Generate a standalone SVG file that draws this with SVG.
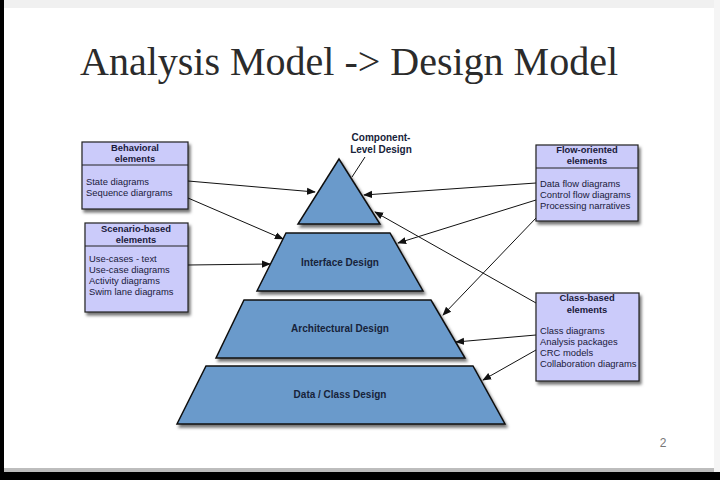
<svg xmlns="http://www.w3.org/2000/svg" width="720" height="480" viewBox="0 0 720 480">
<defs>
<filter id="sh" x="-20%" y="-20%" width="150%" height="150%">
<feDropShadow dx="2" dy="3" stdDeviation="1.6" flood-color="#000" flood-opacity="0.55"/>
</filter>
<marker id="ah" viewBox="0 0 10 10" refX="9" refY="5" markerWidth="9" markerHeight="9" markerUnits="userSpaceOnUse" orient="auto">
<path d="M0,1 L10,5 L0,9 Z" fill="#111"/>
</marker>
<style>
.box{fill:#cbcbfa;stroke:#222;stroke-width:1.2;filter:url(#sh)}
.sep{stroke:#222;stroke-width:1}
.hd{font-family:"Liberation Sans",Arial,sans-serif;font-size:9.4px;font-weight:bold;fill:#1a1a3a;text-anchor:middle}
.bd{font-family:"Liberation Sans",Arial,sans-serif;font-size:9.4px;fill:#1a1a3a}
.pyr{fill:#6a9acb;stroke:#111;stroke-width:1.5;filter:url(#sh)}
.pl{font-family:"Liberation Sans",Arial,sans-serif;font-size:10px;font-weight:bold;fill:#17233a;text-anchor:middle}
.cn{fill:none;stroke:#111;stroke-width:1;marker-end:url(#ah)}
</style>
</defs>
<rect x="0" y="0" width="720" height="480" fill="#000"/>
<rect x="4" y="0" width="716" height="472" fill="#bdbdbd"/>
<rect x="4" y="0" width="710" height="468" fill="#fff"/>
<rect x="4" y="0" width="710" height="8" fill="#f0f0f0"/>
<rect x="714" y="0" width="6" height="472" fill="#f5f5f5"/>
<text x="80" y="75" font-family="Liberation Serif,'Times New Roman',serif" font-size="40" fill="#2b2b2b" textLength="538" lengthAdjust="spacingAndGlyphs">Analysis Model -&gt; Design Model</text>
<text x="663" y="447" font-family="Liberation Sans,Arial,sans-serif" font-size="12" fill="#777" text-anchor="middle">2</text>

<g id="connectors">
<line class="cn" x1="188" y1="181" x2="315" y2="192"/>
<line class="cn" x1="188" y1="198" x2="283" y2="239"/>
<line class="cn" x1="188" y1="265" x2="270" y2="264"/>
<line class="cn" x1="536" y1="183" x2="364" y2="195"/>
<line class="cn" x1="536" y1="200" x2="398" y2="243"/>
<line class="cn" x1="537" y1="217" x2="443" y2="315"/>
<line class="cn" x1="536" y1="303" x2="375" y2="212"/>
<line class="cn" x1="536" y1="335" x2="456" y2="342"/>
<line class="cn" x1="536" y1="350" x2="483" y2="380"/>
<line x1="365" y1="157" x2="352" y2="177" stroke="#111" stroke-width="1"/>
</g>

<g id="component-level">
<polygon class="pyr" points="339,159 380,224 298,224"/>
<text class="pl" x="381" y="141">Component-</text>
<text class="pl" x="381" y="153">Level Design</text>
</g>
<g id="interface">
<polygon class="pyr" points="286,233 390,233 423,291 257,291"/>
<text class="pl" x="340" y="266">Interface Design</text>
</g>
<g id="architectural">
<polygon class="pyr" points="244,300 431,300 465,358 216,358"/>
<text class="pl" x="340" y="332">Architectural Design</text>
</g>
<g id="data-class">
<polygon class="pyr" points="206,366 473,366 505,424 177,424"/>
<text class="pl" x="340" y="398">Data / Class Design</text>
</g>

<g id="behavioral">
<rect class="box" x="82" y="142" width="106" height="67"/>
<line class="sep" x1="82" y1="165" x2="188" y2="165"/>
<text class="hd" x="135" y="151">Behavioral</text>
<text class="hd" x="135" y="162">elements</text>
<text class="bd" x="86" y="185">State diagrams</text>
<text class="bd" x="86" y="196">Sequence diargrams</text>
</g>
<g id="scenario">
<rect class="box" x="85" y="223" width="103" height="89"/>
<line class="sep" x1="85" y1="246" x2="188" y2="246"/>
<text class="hd" x="136" y="231.5">Scenario-based</text>
<text class="hd" x="136" y="242.5">elements</text>
<text class="bd" x="89" y="262">Use-cases - text</text>
<text class="bd" x="89" y="273">Use-case diagrams</text>
<text class="bd" x="89" y="284">Activity diagrams</text>
<text class="bd" x="89" y="295">Swim lane diagrams</text>
</g>
<g id="flow-oriented">
<rect class="box" x="536" y="145" width="102" height="76"/>
<line class="sep" x1="536" y1="168" x2="638" y2="168"/>
<text class="hd" x="587" y="153">Flow-oriented</text>
<text class="hd" x="587" y="164">elements</text>
<text class="bd" x="540" y="187">Data flow diagrams</text>
<text class="bd" x="540" y="198">Control flow diagrams</text>
<text class="bd" x="540" y="209">Processing narratives</text>
</g>
<g id="class-based">
<rect class="box" x="536" y="293" width="103" height="88"/>
<text class="hd" x="587" y="301">Class-based</text>
<text class="hd" x="587" y="313">elements</text>
<text class="bd" x="540" y="334">Class diagrams</text>
<text class="bd" x="540" y="345">Analysis packages</text>
<text class="bd" x="540" y="356">CRC models</text>
<text class="bd" x="540" y="367">Collaboration diagrams</text>
</g>
</svg>
